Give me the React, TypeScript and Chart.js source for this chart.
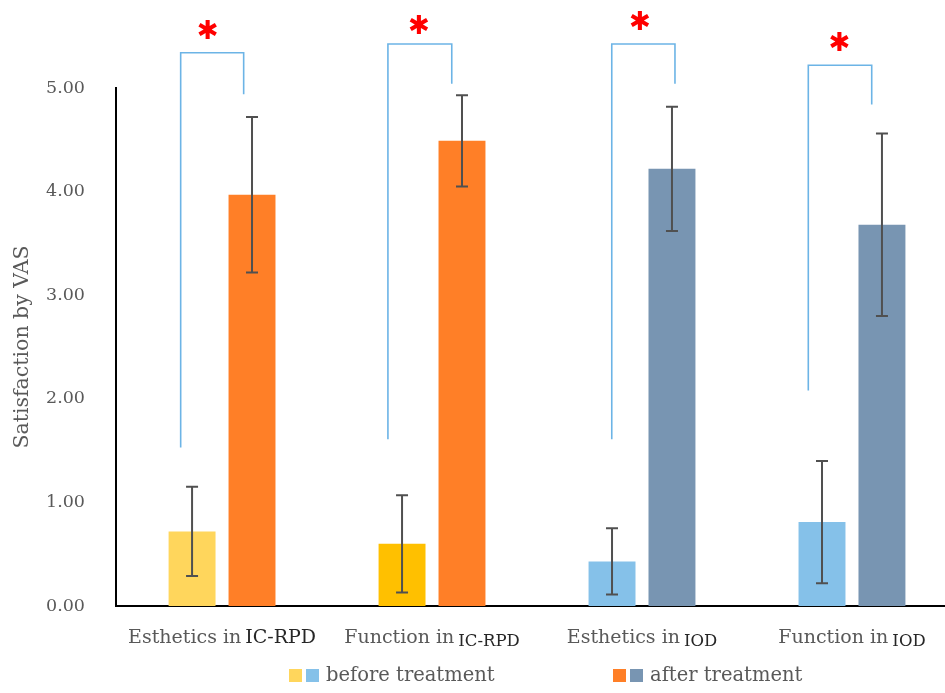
import React, { useEffect, useRef } from "react";
import { Chart, registerables } from "chart.js";

Chart.register(...registerables);

// ---- data ----
const categoryPrefix = ["Esthetics in", "Function in", "Esthetics in", "Function in"];
const categorySuffix = ["IC-RPD", "IC-RPD", "IOD", "IOD"];
const categoryIndex = [0, 1, 2, 3];
const beforeMeans = [0.72, 0.6, 0.43, 0.81];
const beforeSD = [0.43, 0.47, 0.32, 0.59];
const afterMeans = [3.97, 4.49, 4.22, 3.68];
const afterSD = [0.75, 0.44, 0.6, 0.88];
const beforeColors = ["#FFD65C", "#FFC000", "#85C1E9", "#85C1E9"];
const afterColors = ["#FF7F27", "#FF7F27", "#7895B2", "#7895B2"];
const yTicks = [0, 1, 2, 3, 4, 5];
// significance brackets (x in category units, y in VAS units)
const bracketLeftX = [-0.197, 0.79, 1.856, 2.792];
const bracketRightX = [0.103, 1.094, 2.157, 3.094];
const bracketLeftBottom = [1.53, 1.61, 1.61, 2.08];
const bracketTop = [5.34, 5.425, 5.425, 5.22];
const bracketRightBottom = [4.94, 5.04, 5.04, 4.84];
const starX = [-0.068, 0.938, 1.99, 2.94];
const starY = [5.56, 5.61, 5.64, 5.44];
const legendLabels = ["before treatment", "after treatment"];

const FONT = '"DejaVu Serif", serif';

const overlayPlugin = {
  id: "overlay",
  afterDatasetsDraw(chart: any) {
    const ctx = chart.ctx;
    const xs = chart.scales.x;
    const ys = chart.scales.y;
    const sds = [beforeSD, afterSD];
    const means = [beforeMeans, afterMeans];
    ctx.save();
    // error bars
    ctx.strokeStyle = "#505050";
    ctx.lineWidth = 2;
    [0, 1].forEach((d) => {
      const meta = chart.getDatasetMeta(d);
      meta.data.forEach((bar: any, i: number) => {
        const x = bar.x;
        const yHi = ys.getPixelForValue(means[d][i] + sds[d][i]);
        const yLo = ys.getPixelForValue(means[d][i] - sds[d][i]);
        ctx.beginPath();
        ctx.moveTo(x, yHi);
        ctx.lineTo(x, yLo);
        ctx.moveTo(x - 6, yHi);
        ctx.lineTo(x + 6, yHi);
        ctx.moveTo(x - 6, yLo);
        ctx.lineTo(x + 6, yLo);
        ctx.stroke();
      });
    });
    // brackets
    ctx.strokeStyle = "#6CB4E6";
    ctx.lineWidth = 1.6;
    for (let i = 0; i < bracketTop.length; i++) {
      const xl = xs.getPixelForValue(bracketLeftX[i]);
      const xr = xs.getPixelForValue(bracketRightX[i]);
      ctx.beginPath();
      ctx.moveTo(xl, ys.getPixelForValue(bracketLeftBottom[i]));
      ctx.lineTo(xl, ys.getPixelForValue(bracketTop[i]));
      ctx.lineTo(xr, ys.getPixelForValue(bracketTop[i]));
      ctx.lineTo(xr, ys.getPixelForValue(bracketRightBottom[i]));
      ctx.stroke();
    }
    // stars
    ctx.fillStyle = "#FF0000";
    ctx.font = 'bold 26px "DejaVu Sans"';
    ctx.textAlign = "center";
    ctx.textBaseline = "middle";
    for (let i = 0; i < starX.length; i++) {
      ctx.fillText("\u2731", xs.getPixelForValue(starX[i]), ys.getPixelForValue(starY[i]) + 2);
    }
    // x labels
    ctx.textBaseline = "alphabetic";
    ctx.textAlign = "left";
    const base = 643;
    for (let i = 0; i < categoryPrefix.length; i++) {
      const cx = xs.getPixelForValue(categoryIndex[i]);
      const big = i === 0;
      const pFont = `19px ${FONT}`;
      const sFont = big ? `19px ${FONT}` : `16.5px ${FONT}`;
      ctx.font = pFont;
      const pw = ctx.measureText(categoryPrefix[i]).width;
      ctx.font = sFont;
      const sw = ctx.measureText(categorySuffix[i]).width;
      const gap = 4;
      const start = cx - (pw + gap + sw) / 2;
      ctx.font = pFont;
      ctx.fillStyle = "#595959";
      ctx.fillText(categoryPrefix[i], start, base);
      ctx.font = sFont;
      ctx.fillStyle = "#262626";
      ctx.fillText(categorySuffix[i], start + pw + gap, big ? base : base + 3);
    }
    // legend
    const lgY = 669;
    const sw = 13;
    const items = [
      { colors: [beforeColors[0], beforeColors[2]], x: 289, label: legendLabels[0] },
      { colors: [afterColors[0], afterColors[2]], x: 613, label: legendLabels[1] },
    ];
    ctx.font = `19.5px ${FONT}`;
    ctx.textBaseline = "middle";
    items.forEach((it) => {
      ctx.fillStyle = it.colors[0];
      ctx.fillRect(it.x, lgY, sw, sw);
      ctx.fillStyle = it.colors[1];
      ctx.fillRect(it.x + 17, lgY, sw, sw);
      ctx.fillStyle = "#595959";
      ctx.fillText(it.label, it.x + 37, lgY + 7);
    });
    ctx.restore();
  },
};

export default function App() {
  const ref = useRef<HTMLCanvasElement>(null);
  useEffect(() => {
    if (!ref.current) return;
    const chart = new Chart(ref.current, {
      type: "bar",
      data: {
        datasets: [
          {
            label: legendLabels[0],
            data: beforeMeans.map((v, i) => ({ x: categoryIndex[i], y: v })),
            backgroundColor: beforeColors,
          },
          {
            label: legendLabels[1],
            data: afterMeans.map((v, i) => ({ x: categoryIndex[i], y: v })),
            backgroundColor: afterColors,
          },
        ],
      },
      options: {
        animation: false,
        responsive: false,
        categoryPercentage: 0.571,
        barPercentage: 0.783,
        layout: { padding: { top: 88, right: 0, bottom: 0, left: 0 } },
        plugins: { legend: { display: false }, tooltip: { enabled: false } },
        scales: {
          x: {
            type: "linear",
            offset: false,
            min: -0.505,
            max: 3.443,
            grid: { display: false, drawTicks: false, offset: false },
            border: { display: true, color: "#000000", width: 2 },
            ticks: { display: false },
            afterBuildTicks: (s: any) => {
              s.ticks = categoryIndex.map((v) => ({ value: v }));
            },
            afterFit: (s: any) => {
              s.height = 87;
            },
          },
          y: {
            min: 0,
            max: 5,
            grid: { display: false, drawTicks: false },
            border: { display: true, color: "#000000", width: 2 },
            afterBuildTicks: (s: any) => {
              s.ticks = yTicks.map((v) => ({ value: v }));
            },
            ticks: {
              padding: 31,
              color: "#595959",
              font: { family: FONT, size: 17.5 },
              callback: (v: any) => Number(v).toFixed(2),
            },
            title: {
              display: true,
              text: "Satisfaction by VAS",
              color: "#595959",
              font: { family: FONT, size: 20.5 },
              padding: { top: 10, bottom: 0 },
            },
            afterFit: (s: any) => {
              s.width = 116;
            },
          },
        },
      },
      plugins: [overlayPlugin],
    });
    return () => chart.destroy();
  }, []);
  return (
    <div style={{ position: "absolute", left: 0, top: 0, width: 945, height: 693 }}>
      <canvas ref={ref} width={945} height={693} style={{ display: "block" }} />
    </div>
  );
}
